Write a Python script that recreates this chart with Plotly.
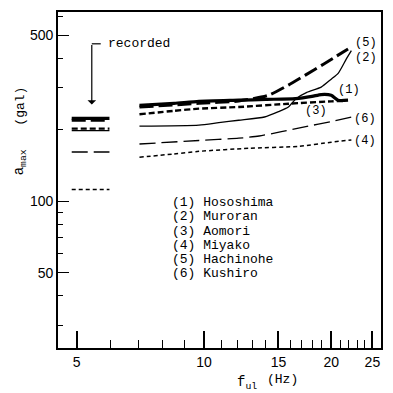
import plotly.graph_objects as go

# ---- data ----
stations = ["Hososhima", "Muroran", "Aomori", "Miyako", "Hachinohe", "Kushiro"]

f1 = [7.04, 8.5, 9.73, 12.08, 14.0, 16.44, 18.0, 18.92, 19.98, 20.75, 21.9]
a1 = [253, 258, 263, 266, 268, 270, 276, 281, 279, 266, 266]

f2 = [7.04, 9.73, 10.84, 12.08, 13.9, 15.0, 15.83, 16.5, 17.5, 18.92, 19.98, 20.75, 21.7, 22.3]
a2 = [207, 209, 214, 219, 226, 238, 249, 270, 287, 302, 326, 345, 397, 430]

f3 = [7.04, 8.5, 9.73, 12.08, 15.83, 19.98, 21.3]
a3 = [232, 240, 245, 249, 257, 263, 264]

f4 = [7.04, 8.5, 9.73, 12.76, 16.71, 19.98, 22.3]
a4 = [153, 158, 162, 167, 170, 177, 181]

f5 = [7.04, 9.73, 12.08, 14.2, 15.83, 17.36, 19.2, 21.9]
a5 = [249, 258, 264, 279, 308, 339, 378, 437]

f6 = [7.04, 9.73, 12.08, 13.5, 15.24, 17.4, 19.98, 22.3]
a6 = [174, 180, 184, 188, 196, 206, 216, 226]

recorded_f = [4.87, 5.98]
recorded = [223, 198, 202, 112, 219, 161]  # order: (1)..(6)

x_major = [5, 10, 15, 20, 25]
x_minor = [6, 7, 8, 9, 11, 12, 13, 14, 16, 17, 18, 19, 21, 22, 23, 24]
y_major = [50, 100, 500]
y_minor = [30, 40, 60, 70, 80, 90, 200, 300, 400, 600]

# ---- styles ----
styles = [
    dict(width=3.2, dash="solid"),
    dict(width=1.3, dash="solid"),
    dict(width=2.4, dash="6px,3px"),
    dict(width=1.5, dash="4px,3px"),
    dict(width=3.0, dash="14px,5px"),
    dict(width=1.3, dash="16px,6px"),
]
series = [(f1, a1), (f2, a2), (f3, a3), (f4, a4), (f5, a5), (f6, a6)]

fig = go.Figure()
for i, (fx, ay) in enumerate(series):
    st = styles[i]
    fig.add_trace(go.Scatter(x=fx, y=ay, mode="lines", showlegend=False,
                             line=dict(color="black", width=st["width"], dash=st["dash"], shape="spline", smoothing=0.6),
                             name=stations[i]))
    fig.add_trace(go.Scatter(x=recorded_f, y=[recorded[i]] * 2, mode="lines", showlegend=False,
                             line=dict(color="black", width=st["width"], dash=st["dash"]),
                             name=stations[i] + " recorded"))

W = H = 393
L, R, T, B = 58, 10, 10, 45
PW, PH = W - L - R, H - T - B


def px(x):
    return (x - L) / PW


def py(y):
    return (H - B - y) / PH


mono = "Liberation Mono"
sans = "Liberation Sans"
ann = []
# curve labels
for txt, x, y in [("(5)", 355, 41), ("(2)", 355, 56), ("(1)", 338, 88), ("(3)", 305, 110),
                  ("(6)", 354, 118), ("(4)", 354, 140)]:
    ann.append(dict(text=txt, x=px(x), y=py(y), xref="paper", yref="paper", showarrow=False,
                    xanchor="left", yanchor="middle", font=dict(family=mono, size=12, color="black")))
# station list
for i, s in enumerate(stations):
    ann.append(dict(text=f"({i+1}) {s}", x=px(171), y=py(202 + 14.2 * i), xref="paper", yref="paper",
                    showarrow=False, xanchor="left", yanchor="middle",
                    font=dict(family=mono, size=13, color="black")))
# recorded
ann.append(dict(text="recorded", x=px(106), y=py(42), xref="paper", yref="paper", showarrow=False,
                xanchor="left", yanchor="middle", font=dict(family=mono, size=13, color="black")))
ann.append(dict(text="", x=px(92), y=py(103), xref="paper", yref="paper", showarrow=True,
                ax=0, ay=-61, arrowhead=1, arrowsize=1.2, arrowwidth=1.2, arrowcolor="black"))
# axis titles
ann.append(dict(text="(gal)", x=px(20), y=py(105), xref="paper", yref="paper", showarrow=False,
                textangle=-90, xanchor="center", yanchor="middle", font=dict(family=mono, size=13, color="black")))
ann.append(dict(text="a<sub>max</sub>", x=px(20), y=py(161), xref="paper", yref="paper", showarrow=False,
                textangle=-90, xanchor="center", yanchor="middle", font=dict(family=mono, size=14, color="black")))
ann.append(dict(text="f<sub>ul</sub>", x=px(236), y=py(383), xref="paper", yref="paper", showarrow=False,
                xanchor="left", yanchor="middle", font=dict(family=mono, size=14, color="black")))
ann.append(dict(text="(Hz)", x=px(266), y=py(380), xref="paper", yref="paper", showarrow=False,
                xanchor="left", yanchor="middle", font=dict(family=mono, size=13, color="black")))

shapes = [dict(type="line", xref="paper", yref="paper", x0=px(92), x1=px(101), y0=py(42), y1=py(42),
               line=dict(color="black", width=1.2))]

fig.update_layout(
    width=W, height=H, autosize=False,
    margin=dict(l=L, r=R, t=T, b=B),
    paper_bgcolor="white", plot_bgcolor="white",
    annotations=ann, shapes=shapes,
    xaxis=dict(type="log", range=[0.6551, 1.4183], showgrid=False, zeroline=False,
               showline=True, linecolor="black", linewidth=1.6, mirror=True,
               tickvals=x_major, ticktext=[str(v) for v in x_major], ticks="inside", ticklen=17,
               tickwidth=1.6, tickcolor="black",
               tickfont=dict(family=sans, size=14, color="black"),
               minor=dict(tickvals=x_minor, ticks="inside", ticklen=8, tickwidth=1.2, tickcolor="black",
                          showgrid=False)),
    yaxis=dict(type="log", range=[1.382, 2.796], showgrid=False, zeroline=False,
               showline=True, linecolor="black", linewidth=1.8, mirror=True,
               tickvals=y_major, ticktext=[str(v) for v in y_major], ticks="inside", ticklen=11,
               tickwidth=1.4, tickcolor="black",
               tickfont=dict(family=sans, size=14, color="black"),
               minor=dict(tickvals=y_minor, ticks="inside", ticklen=5, tickwidth=1.2, tickcolor="black",
                          showgrid=False)),
)

fig.write_html("out.html")
